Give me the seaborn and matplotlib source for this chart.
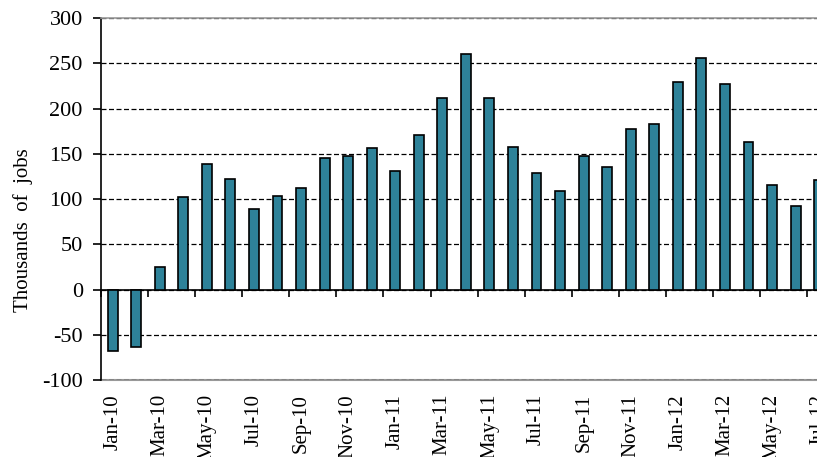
import numpy as np
import pandas as pd
import matplotlib
matplotlib.use("Agg")
import matplotlib.pyplot as plt
import seaborn as sns

months = ["Jan-10", "Feb-10", "Mar-10", "Apr-10", "May-10", "Jun-10", "Jul-10", "Aug-10",
          "Sep-10", "Oct-10", "Nov-10", "Dec-10", "Jan-11", "Feb-11", "Mar-11", "Apr-11",
          "May-11", "Jun-11", "Jul-11", "Aug-11", "Sep-11", "Oct-11", "Nov-11", "Dec-11",
          "Jan-12", "Feb-12", "Mar-12", "Apr-12", "May-12", "Jun-12", "Jul-12"]
jobs = [-68, -63, 25, 102, 139, 122, 89, 104, 112, 146, 148, 156, 131, 171, 212, 261,
        212, 158, 129, 109, 148, 136, 178, 183, 230, 256, 227, 163, 116, 92, 121]
y_ticks = [-100, -50, 0, 50, 100, 150, 200, 250, 300]

sns.set_theme(style="white")
plt.rcParams["font.family"] = ["Liberation Serif", "DejaVu Serif"]

fig = plt.figure(figsize=(8.17, 4.57), dpi=100)
ax = fig.add_axes([0.1235, 0.1685, 0.8935, 0.7915])

df = pd.DataFrame({"month": months, "jobs": jobs})
sns.barplot(data=df, x="month", y="jobs", color="#2E8299", saturation=1,
            width=0.42, edgecolor="black", linewidth=1.2, ax=ax, zorder=3)

ax.set_xlim(-0.5, len(months) - 0.5)
ax.set_ylim(-100, 300)
ax.set_yticks(y_ticks, labels=[str(v) for v in y_ticks])
ax.set_axisbelow(True)
ax.yaxis.grid(True, linestyle=(0, (4, 2)), color="black", linewidth=0.9)
ax.xaxis.grid(False)

# zero axis with tick marks between categories
ax.spines["bottom"].set_position(("data", 0))
ax.spines["bottom"].set_color("black")
ax.spines["bottom"].set_linewidth(1.2)
ax.spines["left"].set_color("black")
ax.spines["left"].set_linewidth(1.2)
ax.spines["top"].set_color("#999999")
ax.spines["top"].set_linewidth(1.2)
ax.spines["right"].set_visible(False)
ax.set_xticks(np.arange(-0.5, len(months), 2))
ax.tick_params(axis="x", which="major", direction="out", length=5, width=1.2,
               color="black", bottom=True, labelbottom=False)
ax.tick_params(axis="y", direction="out", length=6, width=1.2, color="black",
               left=True, labelsize=16, pad=7, labelcolor="black")
ax.set_xlabel("")
ax.set_ylabel("Thousands  of  jobs", fontsize=15, color="black")
ax.yaxis.set_label_coords(-0.0925, 0.414)

# category labels at the bottom of the plot area
sec = ax.secondary_xaxis(0.0)
sec.set_xticks(np.arange(0, len(months), 2), labels=months[::2])
sec.tick_params(length=0, pad=10, labelrotation=90, labelsize=15, labelcolor="black")
sec.spines["bottom"].set_color("#999999")
sec.spines["bottom"].set_linewidth(1.5)

fig.savefig("out.png", dpi=100)
